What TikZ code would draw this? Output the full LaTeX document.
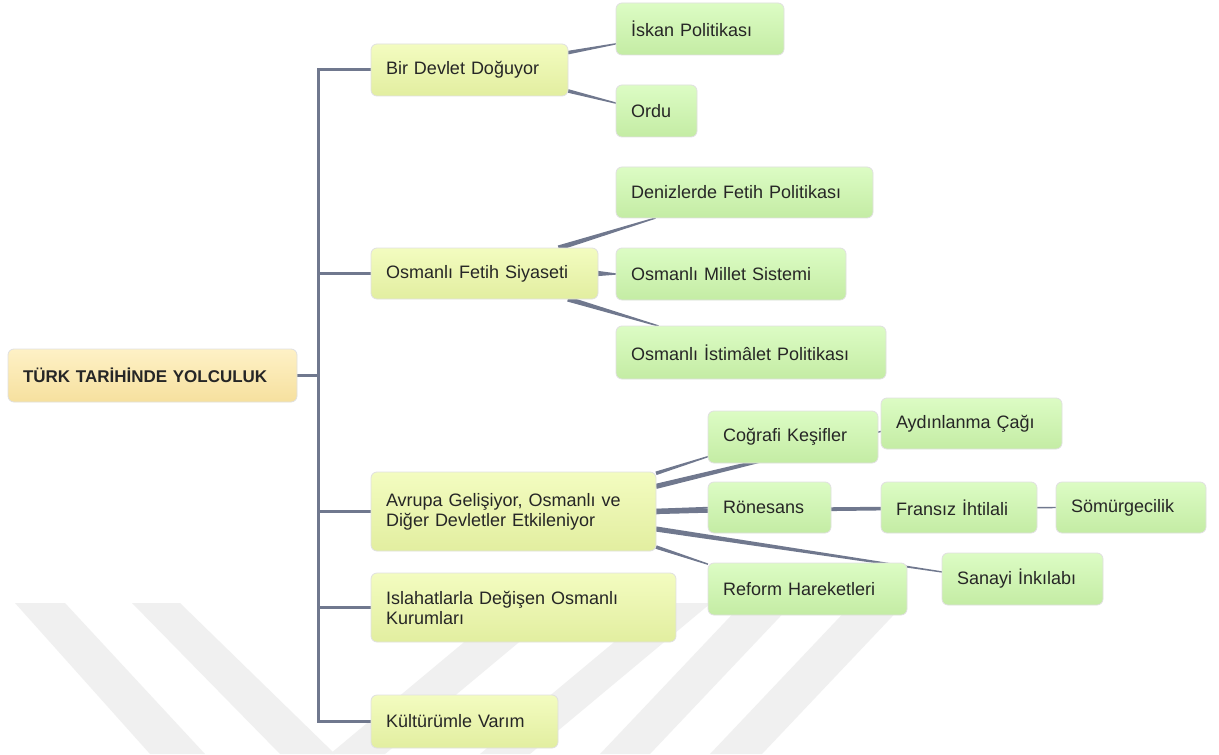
\documentclass[tikz,border=0pt]{standalone}
\usepackage{fontspec}
\setmainfont{Liberation Sans}
\usepackage{xcolor}
\usetikzlibrary{positioning, calc, backgrounds}
\definecolor{renkKok1}{RGB}{254,241,198}
\definecolor{renkKok2}{RGB}{246,224,158}
\definecolor{renkSari1}{RGB}{243,252,192}
\definecolor{renkSari2}{RGB}{226,238,160}
\definecolor{renkYesil1}{RGB}{220,252,196}
\definecolor{renkYesil2}{RGB}{196,236,164}
\definecolor{renkHat}{RGB}{112,120,142}
\definecolor{renkFiligran}{RGB}{240,240,240}

% parent end thick, child end thin
\newcommand{\incebag}[3][1.3pt]{%
  \fill[renkHat] ($(#2)!#1!90:(#3)$) -- ($(#3)!0.35pt!-90:(#2)$)
    -- ($(#3)!0.35pt!90:(#2)$) -- ($(#2)!#1!-90:(#3)$) -- cycle;}

\begin{document}
\begin{tikzpicture}[
    x=0.5pt, y=-0.5pt,
    kutu/.style={rounded corners=3pt, minimum height=26pt, inner xsep=7.5pt, inner ysep=2pt,
                 outer sep=0pt, align=left, font=\fontsize{9}{10}\selectfont, text=black!85,
                 draw=black!12, line width=0.4pt, anchor=north west},
    kok/.style={kutu, top color=renkKok1, bottom color=renkKok2, minimum height=26.5pt,
                font=\fontsize{8.5}{10}\selectfont\bfseries},
    sari/.style={kutu, top color=renkSari1, bottom color=renkSari2},
    yesil/.style={kutu, top color=renkYesil1, bottom color=renkYesil2},
    govde/.style={draw=renkHat, line width=1.5pt}
]
\useasboundingbox (0,0) rectangle (1219,754);

\node[kok, text width=129.5pt] (kok) at (8,349) {TÜRK TARİHİNDE YOLCULUK};

\node[sari, text width=83.5pt, above right=152.5pt and 37pt of kok.north east, anchor=north west] (bir) {Bir Devlet Doğuyor};
\node[sari, text width=98.5pt, minimum height=25.5pt, below=76pt of bir.south west, anchor=north west] (osm) {Osmanlı Fetih Siyaseti};
\node[sari, text width=127.5pt, minimum height=39.5pt, below=86.5pt of osm.south west, anchor=north west] (avr) {Avrupa Gelişiyor, Osmanlı ve\\Diğer Devletler Etkileniyor};
\node[sari, text width=137.5pt, minimum height=34.5pt, below=11pt of avr.south west, anchor=north west] (isl) {Islahatlarla Değişen Osmanlı\\Kurumları};
\node[sari, text width=78.5pt, minimum height=26.5pt, below=26.5pt of isl.south west, anchor=north west] (kul) {Kültürümle Varım};

\node[yesil, text width=69pt, above right=20.5pt and 24pt of bir.north east, anchor=north west] (isk) {İskan Politikası};
\node[yesil, text width=25.5pt, below=15pt of isk.south west, anchor=north west] (ordu) {Ordu};
\node[yesil, text width=113.5pt, minimum height=25.5pt, below=15pt of ordu.south west, anchor=north west] (den) {Denizlerde Fetih Politikası};
\node[yesil, text width=100pt, below=15pt of den.south west, anchor=north west] (mil) {Osmanlı Millet Sistemi};
\node[yesil, text width=120pt, minimum height=26.5pt, below=13pt of mil.south west, anchor=north west] (ist) {Osmanlı İstimâlet Politikası};

\node[yesil, text width=70pt, above right=30.5pt and 26pt of avr.north east, anchor=north west] (cog) {Coğrafi Keşifler};
\node[yesil, text width=46.5pt, minimum height=25.5pt, below=9.5pt of cog.south west, anchor=north west] (ron) {Rönesans};
\node[yesil, text width=84.5pt, below=15pt of ron.south west, anchor=north west] (ref) {Reform Hareketleri};
\node[yesil, text width=75.5pt, minimum height=25.5pt, above right=6.5pt and 1.5pt of cog.north east, anchor=north west] (ayd) {Aydınlanma Çağı};
\node[yesil, text width=63pt, minimum height=25.5pt, right=25pt of ron.north east, anchor=north west] (fra) {Fransız İhtilali};
\node[yesil, text width=60pt, minimum height=25.5pt, right=9.5pt of fra.north east, anchor=north west] (som) {Sömürgecilik};
\node[yesil, text width=65.5pt, above right=5pt and 17.5pt of ref.north east, anchor=north west] (san) {Sanayi İnkılabı};

\begin{scope}[on background layer]
\fill[white] (0,0) rectangle (1219,754);
% filigran
\fill[renkFiligran] (15,603) -- (65,603) -- (205,754) -- (150,754) -- cycle;
\fill[renkFiligran] (132,603) -- (180,603) -- (335,754) -- (280,754) -- cycle;
\fill[renkFiligran] (330,754) -- (385,754) -- (566,603) -- (511,603) -- cycle;
\fill[renkFiligran] (480,754) -- (530,754) -- (711,603) -- (661,603) -- cycle;
\fill[renkFiligran] (600,754) -- (650,754) -- (793,603) -- (743,603) -- cycle;
\fill[renkFiligran] (710,754) -- (762,754) -- (905,603) -- (853,603) -- cycle;

\draw[govde] (kok.east) -- ++(21,0) |- (bir.west);
\draw[govde] (kok.east) -- ++(21,0) |- (osm.west);
\draw[govde] (kok.east) -- ++(21,0) |- (avr.west);
\draw[govde] (kok.east) -- ++(21,0) |- (isl.west);
\draw[govde] (kok.east) -- ++(21,0) |- (kul.west);

\incebag[0.9pt]{bir.10}{isk.190}
\incebag[0.9pt]{bir.-12}{ordu.169}
\incebag{osm.19}{den.196}
\incebag{osm.east}{mil.west}
\incebag{osm.-17}{ist.164}
\incebag[0.9pt]{avr.15}{cog.193}
\incebag{avr.10}{ayd.185}
\incebag[1.4pt]{avr.east}{ron.west}
\incebag{avr.east}{fra.west}
\incebag[0.9pt]{avr.east}{som.west}
\incebag{avr.-7}{san.175}
\incebag[0.9pt]{avr.-14}{ref.166}
\end{scope}
\end{tikzpicture}
\end{document}
